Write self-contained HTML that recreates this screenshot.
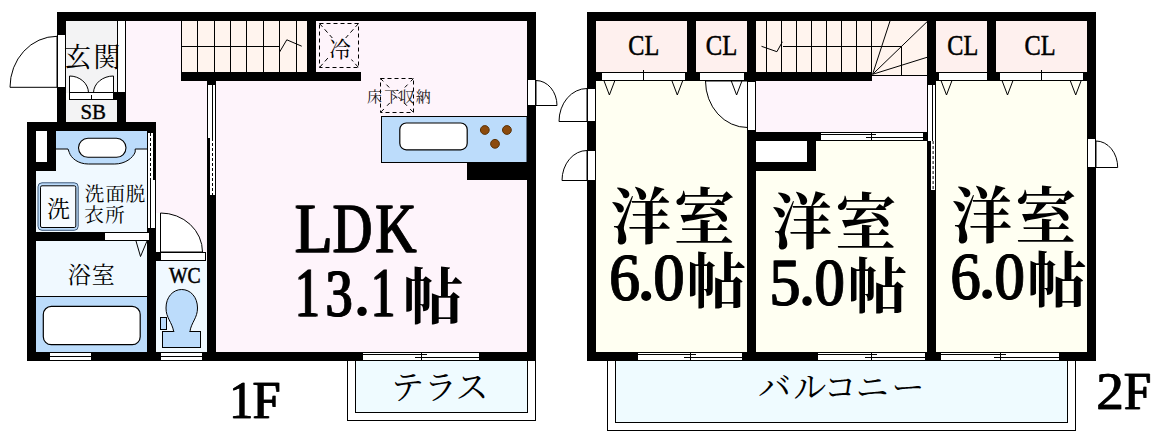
<!DOCTYPE html>
<html lang="ja"><head><meta charset="utf-8"><title>Floor plan 1F / 2F</title>
<style>
html,body{margin:0;padding:0;background:#fff;}
body{width:1156px;height:442px;overflow:hidden;font-family:"Liberation Serif",serif;}
svg{display:block;}
svg text{font-family:"Liberation Serif",serif;font-kerning:none;white-space:pre;}
svg text.cjk{font-family:"Liberation Serif","Noto Serif CJK SC","Noto Sans CJK JP",serif;}
</style></head><body>
<svg width="1156" height="442" viewBox="0 0 1156 442">
<rect width="1156" height="442" fill="#fff"/>
<rect x="66" y="21" width="461" height="331" fill="#fef4fb"/>
<rect x="66" y="21" width="51" height="72" fill="#f3f3f4"/>
<rect x="117" y="21" width="9" height="72" fill="#fff"/>
<rect x="66" y="93" width="51" height="7" fill="#fff"/>
<rect x="66" y="100" width="51" height="22" fill="#f3f3f4"/>
<rect x="36" y="131" width="111" height="221" fill="#f0f9ff"/>
<rect x="156" y="260" width="51" height="92" fill="#f0f9ff"/>
<rect x="181" y="21" width="126" height="51" fill="#fff4ee"/>
<rect x="57" y="12" width="479" height="9" fill="#000"/>
<rect x="57" y="12" width="9" height="22" fill="#000"/>
<rect x="57" y="88" width="9" height="34" fill="#000"/>
<rect x="117" y="92" width="9" height="30" fill="#000"/>
<rect x="114" y="92" width="3" height="8" fill="#000"/>
<rect x="27" y="122" width="129" height="9" fill="#000"/>
<rect x="27" y="122" width="9" height="239" fill="#000"/>
<rect x="36" y="131" width="20" height="40" fill="#000"/>
<rect x="36" y="131" width="11" height="31" fill="#fff"/>
<rect x="36" y="232" width="68" height="9" fill="#000"/>
<rect x="147" y="122" width="9" height="11" fill="#000"/>
<rect x="147" y="228" width="9" height="133" fill="#000"/>
<rect x="156" y="252" width="4" height="9" fill="#000"/>
<rect x="207" y="195" width="9" height="166" fill="#000"/>
<rect x="207" y="81" width="9" height="4" fill="#000"/>
<rect x="181" y="72" width="180" height="9" fill="#000"/>
<rect x="307" y="21" width="9" height="51" fill="#000"/>
<rect x="27" y="352" width="509" height="9" fill="#000"/>
<rect x="527" y="12" width="9" height="349" fill="#000"/>
<rect x="467" y="162" width="60" height="18" fill="#000"/>
<line x1="117.5" y1="21" x2="117.5" y2="93" stroke="#000" stroke-width="1"/>
<line x1="125.5" y1="21" x2="125.5" y2="93" stroke="#000" stroke-width="1"/>
<path d="M57 36.3 A47 51 0 0 0 10 87.3 L57 87.3 Z" fill="#fff" stroke="#000" stroke-width="1"/>
<rect x="57.5" y="34.5" width="8" height="53" fill="#fff" stroke="#000" stroke-width="1"/>
<path d="M69.5 76 A19 17 0 0 1 88.5 92.5 L69.5 92.5 Z" fill="#fff" stroke="#000" stroke-width="1"/>
<path d="M113.5 76 A20 17 0 0 0 93.5 92.5 L113.5 92.5 Z" fill="#fff" stroke="#000" stroke-width="1"/>
<rect x="69.5" y="92.5" width="44" height="7" fill="#fff" stroke="#000" stroke-width="1"/>
<line x1="91.5" y1="95" x2="91.5" y2="100" stroke="#000" stroke-width="1"/>
<line x1="181.5" y1="21" x2="181.5" y2="72" stroke="#000" stroke-width="1"/>
<line x1="197.5" y1="21" x2="197.5" y2="72" stroke="#000" stroke-width="1"/>
<line x1="214.5" y1="21" x2="214.5" y2="72" stroke="#000" stroke-width="1"/>
<line x1="230.5" y1="21" x2="230.5" y2="72" stroke="#000" stroke-width="1"/>
<line x1="246.5" y1="21" x2="246.5" y2="72" stroke="#000" stroke-width="1"/>
<line x1="263.5" y1="21" x2="263.5" y2="72" stroke="#000" stroke-width="1"/>
<line x1="279.5" y1="21" x2="279.5" y2="72" stroke="#000" stroke-width="1"/>
<line x1="296.5" y1="21" x2="296.5" y2="72" stroke="#000" stroke-width="1"/>
<line x1="181" y1="46.5" x2="280" y2="46.5" stroke="#000" stroke-width="1"/>
<path d="M279.6 52 L286.8 39.8 L301.7 46.2" fill="none" stroke="#000" stroke-width="1"/>
<rect x="207" y="85" width="9" height="110" fill="#fff"/>
<line x1="207.5" y1="85" x2="207.5" y2="195" stroke="#000" stroke-width="1"/>
<line x1="215.5" y1="85" x2="215.5" y2="195" stroke="#000" stroke-width="1"/>
<line x1="212.5" y1="85" x2="212.5" y2="138" stroke="#000" stroke-width="1"/>
<rect x="207" y="138" width="3" height="57" fill="#000"/>
<line x1="212.5" y1="138" x2="212.5" y2="195" stroke="#000" stroke-width="1" stroke-dasharray="3 2"/>
<rect x="147" y="133" width="9" height="95" fill="#fff"/>
<line x1="147.5" y1="133" x2="147.5" y2="228" stroke="#000" stroke-width="1"/>
<line x1="155.5" y1="180" x2="155.5" y2="228" stroke="#000" stroke-width="1"/>
<rect x="153" y="133" width="3" height="47" fill="#000"/>
<line x1="150.5" y1="133" x2="150.5" y2="180" stroke="#000" stroke-width="1" stroke-dasharray="3 2"/>
<line x1="150.5" y1="180" x2="150.5" y2="228" stroke="#000" stroke-width="1"/>
<rect x="56" y="131" width="91" height="18" fill="#bcdcfb"/>
<path d="M56 149 H68 L69.3 152.5 C71 158 78 164 88.3 164 H114.8 C125 164 133 158 135.2 152 V149 H147" fill="#bcdcfb" stroke="#000" stroke-width="1"/>
<rect x="78.5" y="138.3" width="47.5" height="19" fill="#fff" stroke="#000" stroke-width="1.1" rx="9.5"/>
<rect x="38" y="182.8" width="40.2" height="47.5" fill="#bcdcfb" stroke="#3d5878" stroke-width="1" rx="4"/>
<rect x="40.5" y="185.8" width="35.3" height="41.7" fill="#f6fbff" stroke="#000" stroke-width="1" rx="1.5"/>
<rect x="104.5" y="232.5" width="45" height="8" fill="#fff" stroke="#000" stroke-width="1"/>
<path d="M136 241 L140.5 256.5 L147 241" fill="none" stroke="#000" stroke-width="1"/>
<rect x="36" y="296" width="111" height="56" fill="#bcdcfb"/>
<line x1="36" y1="296.5" x2="147" y2="296.5" stroke="#000" stroke-width="1"/>
<rect x="43.3" y="306.4" width="96.9" height="38.3" fill="#fff" stroke="#000" stroke-width="1.2" rx="8"/>
<path d="M160.5 213 A42 39 0 0 1 202.5 252 L160.5 252 Z" fill="#fff" stroke="#000" stroke-width="1"/>
<rect x="156" y="213" width="4" height="39" fill="#fff"/>
<rect x="160.5" y="252.5" width="45" height="8" fill="#fff" stroke="#000" stroke-width="1"/>
<rect x="162.5" y="331.5" width="38" height="16" fill="#bcdcfb" stroke="#000" stroke-width="1"/>
<path d="M173.7 331.5 C172 322 166 318 166 308 C166 297 173 289.5 181.7 289.5 C190.5 289.5 197.5 297 197.5 308 C197.5 318 191.5 322 189.9 331.5 Z" fill="#bcdcfb" stroke="#000" stroke-width="1"/>
<rect x="174.3" y="330" width="15" height="2.5" fill="#bcdcfb"/>
<rect x="160.5" y="317.5" width="6" height="12" fill="#bcdcfb" stroke="#000" stroke-width="1"/>
<rect x="50" y="352" width="41" height="9" fill="#fff"/>
<line x1="50" y1="352.5" x2="91" y2="352.5" stroke="#000" stroke-width="1"/>
<line x1="50" y1="360.5" x2="91" y2="360.5" stroke="#000" stroke-width="1"/>
<line x1="50" y1="356.5" x2="91" y2="356.5" stroke="#000" stroke-width="1"/>
<rect x="161" y="352" width="41" height="9" fill="#fff"/>
<line x1="161" y1="352.5" x2="202" y2="352.5" stroke="#000" stroke-width="1"/>
<line x1="161" y1="360.5" x2="202" y2="360.5" stroke="#000" stroke-width="1"/>
<line x1="161" y1="356.5" x2="202" y2="356.5" stroke="#000" stroke-width="1"/>
<rect x="527" y="79" width="9" height="27" fill="#fff"/>
<path d="M536 80.5 A21 25 0 0 1 557 105.5 L536 105.5 Z" fill="#fff" stroke="#000" stroke-width="1"/>
<rect x="527.5" y="79.5" width="8" height="26" fill="#fff" stroke="#000" stroke-width="1"/>
<rect x="381.5" y="116.5" width="145.5" height="46" fill="#bcdcfb" stroke="#000" stroke-width="1"/>
<rect x="399.8" y="123" width="67.4" height="26.8" fill="#fff" stroke="#000" stroke-width="1.2" rx="6.5"/>
<circle cx="484.8" cy="130" r="4.4" fill="#8c4a0c" stroke="#5a3206" stroke-width="1"/>
<circle cx="506.9" cy="130" r="4.4" fill="#8c4a0c" stroke="#5a3206" stroke-width="1"/>
<circle cx="495" cy="143.8" r="4.4" fill="#8c4a0c" stroke="#5a3206" stroke-width="1"/>
<rect x="319.5" y="23.5" width="39" height="44" fill="none" stroke="#000" stroke-width="1" stroke-dasharray="4 3"/>
<line x1="319.5" y1="23.5" x2="358.5" y2="67.5" stroke="#000" stroke-width="1" stroke-dasharray="4.5 3.2"/>
<line x1="358.5" y1="23.5" x2="319.5" y2="67.5" stroke="#000" stroke-width="1" stroke-dasharray="4.5 3.2"/>
<rect x="329" y="38" width="22.5" height="22" fill="#fef4fb"/>
<rect x="380.5" y="78.5" width="33" height="34" fill="none" stroke="#000" stroke-width="1" stroke-dasharray="4 3"/>
<line x1="380.5" y1="78.5" x2="413.5" y2="112.5" stroke="#000" stroke-width="1" stroke-dasharray="4 4.5"/>
<line x1="413.5" y1="78.5" x2="380.5" y2="112.5" stroke="#000" stroke-width="1" stroke-dasharray="4 4.5"/>
<rect x="347.5" y="360.5" width="188" height="60" fill="#fff" stroke="#000" stroke-width="1"/>
<rect x="348" y="360" width="187" height="1" fill="#fff"/>
<rect x="355.5" y="360.5" width="172" height="52" fill="#effbff" stroke="#000" stroke-width="1"/>
<rect x="27" y="352" width="336" height="9" fill="#000"/>
<rect x="479" y="352" width="57" height="9" fill="#000"/>
<rect x="363" y="352" width="116" height="9" fill="#fff"/>
<line x1="363" y1="352.5" x2="479" y2="352.5" stroke="#000" stroke-width="1"/>
<line x1="363" y1="360.5" x2="479" y2="360.5" stroke="#000" stroke-width="1"/>
<line x1="363" y1="354.5" x2="427" y2="354.5" stroke="#000" stroke-width="1"/>
<line x1="415" y1="357.5" x2="479" y2="357.5" stroke="#000" stroke-width="1"/>
<line x1="421.5" y1="352" x2="421.5" y2="361" stroke="#000" stroke-width="1"/>
<rect x="50" y="352" width="41" height="9" fill="#fff"/>
<line x1="50" y1="352.5" x2="91" y2="352.5" stroke="#000" stroke-width="1"/>
<line x1="50" y1="360.5" x2="91" y2="360.5" stroke="#000" stroke-width="1"/>
<line x1="50" y1="356.5" x2="91" y2="356.5" stroke="#000" stroke-width="1"/>
<rect x="161" y="352" width="41" height="9" fill="#fff"/>
<line x1="161" y1="352.5" x2="202" y2="352.5" stroke="#000" stroke-width="1"/>
<line x1="161" y1="360.5" x2="202" y2="360.5" stroke="#000" stroke-width="1"/>
<line x1="161" y1="356.5" x2="202" y2="356.5" stroke="#000" stroke-width="1"/>
<rect x="596" y="21" width="491" height="51" fill="#fef0ee"/>
<rect x="756" y="21" width="171" height="55" fill="#fff4ee"/>
<rect x="756" y="76" width="171" height="56" fill="#fef4fb"/>
<rect x="596" y="81" width="151" height="271" fill="#fffff2"/>
<rect x="756" y="141" width="171" height="211" fill="#fffff2"/>
<rect x="936" y="81" width="151" height="271" fill="#fffff2"/>
<rect x="587" y="12" width="509" height="9" fill="#000"/>
<rect x="587" y="12" width="9" height="349" fill="#000"/>
<rect x="1087" y="12" width="9" height="349" fill="#000"/>
<rect x="687" y="21" width="9" height="51" fill="#000"/>
<rect x="685" y="72" width="15" height="9" fill="#000"/>
<rect x="747" y="21" width="9" height="60" fill="#000"/>
<rect x="927" y="12" width="9" height="73" fill="#000"/>
<rect x="927" y="72" width="12" height="9" fill="#000"/>
<rect x="987" y="21" width="9" height="51" fill="#000"/>
<rect x="987" y="72" width="13" height="9" fill="#000"/>
<rect x="596" y="72" width="6" height="9" fill="#000"/>
<rect x="1083" y="72" width="4" height="9" fill="#000"/>
<rect x="744" y="72" width="128" height="9" fill="#000"/>
<rect x="747" y="131" width="9" height="230" fill="#000"/>
<rect x="747" y="132" width="74" height="9" fill="#000"/>
<rect x="747" y="132" width="69" height="39" fill="#000"/>
<rect x="756" y="141" width="51" height="21" fill="#fff"/>
<rect x="927" y="190" width="9" height="171" fill="#000"/>
<rect x="923" y="132" width="5" height="9" fill="#000"/>
<rect x="602" y="72" width="83" height="9" fill="#fff"/>
<line x1="602" y1="72.5" x2="685" y2="72.5" stroke="#000" stroke-width="1"/>
<line x1="602" y1="80.5" x2="685" y2="80.5" stroke="#000" stroke-width="1"/>
<line x1="643.5" y1="70" x2="643.5" y2="81" stroke="#000" stroke-width="1"/>
<rect x="700" y="72" width="44" height="9" fill="#fff"/>
<line x1="700" y1="72.5" x2="744" y2="72.5" stroke="#000" stroke-width="1"/>
<line x1="700" y1="80.5" x2="744" y2="80.5" stroke="#000" stroke-width="1"/>
<rect x="939" y="72" width="48" height="9" fill="#fff"/>
<line x1="939" y1="72.5" x2="987" y2="72.5" stroke="#000" stroke-width="1"/>
<line x1="939" y1="80.5" x2="987" y2="80.5" stroke="#000" stroke-width="1"/>
<rect x="1000" y="72" width="83" height="9" fill="#fff"/>
<line x1="1000" y1="72.5" x2="1083" y2="72.5" stroke="#000" stroke-width="1"/>
<line x1="1000" y1="80.5" x2="1083" y2="80.5" stroke="#000" stroke-width="1"/>
<line x1="1041.5" y1="70" x2="1041.5" y2="81" stroke="#000" stroke-width="1"/>
<path d="M705.5 81 A42 46.5 0 0 0 747.5 127.5 L747.5 81 Z" fill="#fff" stroke="#000" stroke-width="1"/>
<rect x="747.5" y="81.5" width="8" height="49" fill="#fff" stroke="#000" stroke-width="1"/>
<path d="M604.1 81 L609.4 95 L614.7 81" fill="none" stroke="#000" stroke-width="1"/>
<path d="M672 81 L677.3 95 L682.6 81" fill="none" stroke="#000" stroke-width="1"/>
<path d="M731.3 81 L736.6 95 L741.9 81" fill="none" stroke="#000" stroke-width="1"/>
<path d="M941.2 81 L946.5 95 L951.8 81" fill="none" stroke="#000" stroke-width="1"/>
<path d="M1002.2 81 L1007.5 95 L1012.8 81" fill="none" stroke="#000" stroke-width="1"/>
<path d="M1070.4 81 L1075.7 95 L1081 81" fill="none" stroke="#000" stroke-width="1"/>
<line x1="766.5" y1="21" x2="766.5" y2="72" stroke="#000" stroke-width="1"/>
<line x1="781.5" y1="21" x2="781.5" y2="72" stroke="#000" stroke-width="1"/>
<line x1="796.5" y1="21" x2="796.5" y2="72" stroke="#000" stroke-width="1"/>
<line x1="811.5" y1="21" x2="811.5" y2="72" stroke="#000" stroke-width="1"/>
<line x1="826.5" y1="21" x2="826.5" y2="72" stroke="#000" stroke-width="1"/>
<line x1="841.5" y1="21" x2="841.5" y2="72" stroke="#000" stroke-width="1"/>
<line x1="856.5" y1="21" x2="856.5" y2="72" stroke="#000" stroke-width="1"/>
<line x1="871.5" y1="21" x2="871.5" y2="72" stroke="#000" stroke-width="1"/>
<line x1="783" y1="46.5" x2="902" y2="46.5" stroke="#000" stroke-width="1"/>
<path d="M761.5 46.3 L776.9 51.7 L782.4 41.8" fill="none" stroke="#000" stroke-width="1"/>
<line x1="872.6" y1="74.3" x2="890" y2="21" stroke="#000" stroke-width="1"/>
<line x1="872.6" y1="74.3" x2="927.5" y2="21.3" stroke="#000" stroke-width="1"/>
<line x1="872.6" y1="74.3" x2="927.4" y2="57.2" stroke="#000" stroke-width="1"/>
<line x1="901.5" y1="46" x2="901.5" y2="76" stroke="#000" stroke-width="1"/>
<line x1="872" y1="75.5" x2="927" y2="75.5" stroke="#000" stroke-width="1"/>
<rect x="821" y="132" width="102" height="9" fill="#fff"/>
<line x1="821" y1="132.5" x2="923" y2="132.5" stroke="#000" stroke-width="1"/>
<line x1="821" y1="140.5" x2="923" y2="140.5" stroke="#000" stroke-width="1"/>
<line x1="821" y1="134.5" x2="876" y2="134.5" stroke="#000" stroke-width="1"/>
<line x1="866" y1="137.5" x2="923" y2="137.5" stroke="#000" stroke-width="1"/>
<line x1="871.5" y1="132" x2="871.5" y2="141" stroke="#000" stroke-width="1"/>
<rect x="927" y="85" width="9" height="105" fill="#fff"/>
<line x1="927.5" y1="85" x2="927.5" y2="190" stroke="#000" stroke-width="1"/>
<line x1="935.5" y1="85" x2="935.5" y2="190" stroke="#000" stroke-width="1"/>
<line x1="932.5" y1="85" x2="932.5" y2="141" stroke="#000" stroke-width="1"/>
<rect x="927" y="141" width="4" height="49" fill="#000"/>
<line x1="933.1" y1="141" x2="933.1" y2="190" stroke="#000" stroke-width="1" stroke-dasharray="3 2"/>
<rect x="923" y="132" width="5" height="9" fill="#000"/>
<path d="M587 88.5 A28 33 0 0 0 559 121.5 L587 121.5 Z" fill="#fff" stroke="#000" stroke-width="1"/>
<rect x="587.5" y="88.5" width="8" height="33" fill="#fff" stroke="#000" stroke-width="1"/>
<path d="M587 150.5 A25 30 0 0 0 562 180.5 L587 180.5 Z" fill="#fff" stroke="#000" stroke-width="1"/>
<rect x="587.5" y="150.5" width="8" height="30" fill="#fff" stroke="#000" stroke-width="1"/>
<path d="M1096 141 A21.7 26.5 0 0 1 1117.7 167.5 L1096 167.5 Z" fill="#fff" stroke="#000" stroke-width="1"/>
<rect x="1087.5" y="138.5" width="8" height="29" fill="#fff" stroke="#000" stroke-width="1"/>
<rect x="607.5" y="360.5" width="468" height="70" fill="#fff" stroke="#000" stroke-width="1"/>
<rect x="608" y="360" width="467" height="1" fill="#fff"/>
<rect x="615.5" y="360.5" width="452" height="62" fill="#effbff" stroke="#000" stroke-width="1"/>
<rect x="587" y="352" width="509" height="9" fill="#000"/>
<rect x="638" y="352" width="104" height="9" fill="#fff"/>
<line x1="638" y1="352.5" x2="742" y2="352.5" stroke="#000" stroke-width="1"/>
<line x1="638" y1="360.5" x2="742" y2="360.5" stroke="#000" stroke-width="1"/>
<line x1="638" y1="354.5" x2="696" y2="354.5" stroke="#000" stroke-width="1"/>
<line x1="684" y1="357.5" x2="742" y2="357.5" stroke="#000" stroke-width="1"/>
<line x1="690.5" y1="352" x2="690.5" y2="361" stroke="#000" stroke-width="1"/>
<rect x="818" y="352" width="107" height="9" fill="#fff"/>
<line x1="818" y1="352.5" x2="925" y2="352.5" stroke="#000" stroke-width="1"/>
<line x1="818" y1="360.5" x2="925" y2="360.5" stroke="#000" stroke-width="1"/>
<line x1="818" y1="354.5" x2="877" y2="354.5" stroke="#000" stroke-width="1"/>
<line x1="865" y1="357.5" x2="925" y2="357.5" stroke="#000" stroke-width="1"/>
<line x1="871.5" y1="352" x2="871.5" y2="361" stroke="#000" stroke-width="1"/>
<rect x="941" y="352" width="118" height="9" fill="#fff"/>
<line x1="941" y1="352.5" x2="1059" y2="352.5" stroke="#000" stroke-width="1"/>
<line x1="941" y1="360.5" x2="1059" y2="360.5" stroke="#000" stroke-width="1"/>
<line x1="941" y1="354.5" x2="1006" y2="354.5" stroke="#000" stroke-width="1"/>
<line x1="994" y1="357.5" x2="1059" y2="357.5" stroke="#000" stroke-width="1"/>
<line x1="1000.5" y1="352" x2="1000.5" y2="361" stroke="#000" stroke-width="1"/>
<text class="cjk" x="77.4" y="66.5" font-size="27" text-anchor="middle" fill="#000">玄</text>
<text class="cjk" x="107" y="66.5" font-size="27" text-anchor="middle" fill="#000">関</text>
<text transform="matrix(0.2086 0 0 0.2099 80.40 118.90)" font-size="100" font-weight="normal" fill="#000" stroke="#000" stroke-width="1.91">SB</text>
<text class="cjk" x="94.5" y="200.5" font-size="19.5" text-anchor="middle" fill="#000">洗</text>
<text class="cjk" x="115.3" y="200.5" font-size="19.5" text-anchor="middle" fill="#000">面</text>
<text class="cjk" x="135.5" y="200.5" font-size="19.5" text-anchor="middle" fill="#000">脱</text>
<text class="cjk" x="94.1" y="221.5" font-size="19.5" text-anchor="middle" fill="#000">衣</text>
<text class="cjk" x="114.9" y="221.5" font-size="19.5" text-anchor="middle" fill="#000">所</text>
<text class="cjk" x="58.5" y="217" font-size="23" text-anchor="middle" fill="#000">洗</text>
<text class="cjk" x="79.2" y="283.3" font-size="23" text-anchor="middle" fill="#000">浴</text>
<text class="cjk" x="103.2" y="283.3" font-size="23" text-anchor="middle" fill="#000">室</text>
<text transform="matrix(0.1968 0 0 0.2333 168.93 283.20)" font-size="100" font-weight="normal" fill="#000" stroke="#000" stroke-width="2.32">WC</text>
<text class="cjk" x="340" y="57.3" font-size="21.5" text-anchor="middle" fill="#000">冷</text>
<text class="cjk" x="374.5" y="101.8" font-size="15" text-anchor="middle" fill="#111">床</text>
<text class="cjk" x="391.7" y="101.8" font-size="15" text-anchor="middle" fill="#111">下</text>
<text class="cjk" x="407" y="101.8" font-size="15" text-anchor="middle" fill="#111">収</text>
<text class="cjk" x="423.2" y="101.8" font-size="15" text-anchor="middle" fill="#111">納</text>
<text transform="matrix(0.6150 0 0 0.7056 294.23 251.90)" font-size="100" font-weight="normal" fill="#000" stroke="#000" stroke-width="1.21">L</text><text transform="matrix(0.6150 0 0 0.7056 295.43 251.90)" font-size="100" font-weight="normal" fill="#000" stroke="#000" stroke-width="1.21" aria-hidden="true">L</text>
<text transform="matrix(0.5434 0 0 0.7035 332.33 251.76)" font-size="100" font-weight="normal" fill="#000" stroke="#000" stroke-width="1.28">D</text><text transform="matrix(0.5434 0 0 0.7035 333.53 251.76)" font-size="100" font-weight="normal" fill="#000" stroke="#000" stroke-width="1.28" aria-hidden="true">D</text>
<text transform="matrix(0.5695 0 0 0.7056 374.66 251.90)" font-size="100" font-weight="normal" fill="#000" stroke="#000" stroke-width="1.25">K</text><text transform="matrix(0.5695 0 0 0.7056 375.86 251.90)" font-size="100" font-weight="normal" fill="#000" stroke="#000" stroke-width="1.25" aria-hidden="true">K</text>
<text transform="matrix(0.4829 0 0 0.6907 294.46 315.80)" font-size="100" font-weight="normal" fill="#000" stroke="#000" stroke-width="1.36">1</text><text transform="matrix(0.4829 0 0 0.6907 295.96 315.80)" font-size="100" font-weight="normal" fill="#000" stroke="#000" stroke-width="1.36" aria-hidden="true">1</text>
<text transform="matrix(0.5326 0 0 0.6861 324.95 315.63)" font-size="100" font-weight="normal" fill="#000" stroke="#000" stroke-width="1.31">3</text><text transform="matrix(0.5326 0 0 0.6861 326.45 315.63)" font-size="100" font-weight="normal" fill="#000" stroke="#000" stroke-width="1.31" aria-hidden="true">3</text>
<text transform="matrix(0.8040 0 0 0.7786 351.90 315.10)" font-size="100" font-weight="normal" fill="#000">.</text>
<text transform="matrix(0.4744 0 0 0.6907 370.53 315.80)" font-size="100" font-weight="normal" fill="#000" stroke="#000" stroke-width="1.37">1</text><text transform="matrix(0.4744 0 0 0.6907 372.03 315.80)" font-size="100" font-weight="normal" fill="#000" stroke="#000" stroke-width="1.37" aria-hidden="true">1</text>
<text class="cjk" x="433.3" y="318.5" font-size="61" font-weight="bold" text-anchor="middle" fill="#000">帖</text>
<text transform="matrix(0.4744 0 0 0.5332 229.03 417.60)" font-size="100" font-weight="normal" fill="#000" stroke="#000" stroke-width="1.19">1</text><text transform="matrix(0.4744 0 0 0.5332 229.83 417.60)" font-size="100" font-weight="normal" fill="#000" stroke="#000" stroke-width="1.19" aria-hidden="true">1</text>
<text transform="matrix(0.4967 0 0 0.5330 252.37 417.60)" font-size="100" font-weight="normal" fill="#000" stroke="#000" stroke-width="1.17">F</text><text transform="matrix(0.4967 0 0 0.5330 253.17 417.60)" font-size="100" font-weight="normal" fill="#000" stroke="#000" stroke-width="1.17" aria-hidden="true">F</text>
<text class="cjk" x="407.6" y="399" font-size="33" text-anchor="middle" fill="#000">テ</text>
<text class="cjk" x="440.6" y="399" font-size="33" text-anchor="middle" fill="#000">ラ</text>
<text class="cjk" x="472" y="399" font-size="33" text-anchor="middle" fill="#000">ス</text>
<text transform="matrix(0.2422 0 0 0.2858 628.26 54.67)" font-size="100" font-weight="normal" fill="#000" stroke="#000" stroke-width="1.89">CL</text>
<text transform="matrix(0.2464 0 0 0.2858 705.74 54.67)" font-size="100" font-weight="normal" fill="#000" stroke="#000" stroke-width="1.88">CL</text>
<text transform="matrix(0.2422 0 0 0.2858 947.26 54.67)" font-size="100" font-weight="normal" fill="#000" stroke="#000" stroke-width="1.89">CL</text>
<text transform="matrix(0.2430 0 0 0.2858 1024.45 54.67)" font-size="100" font-weight="normal" fill="#000" stroke="#000" stroke-width="1.89">CL</text>
<text class="cjk" x="641" y="238.5" font-size="61" font-weight="bold" text-anchor="middle" fill="#000">洋</text>
<text class="cjk" x="704.2" y="238.5" font-size="61" font-weight="bold" text-anchor="middle" fill="#000">室</text>
<text transform="matrix(0.6085 0 0 0.6787 608.79 299.94)" font-size="100" font-weight="normal" fill="#000" stroke="#000" stroke-width="1.24">6</text><text transform="matrix(0.6085 0 0 0.6787 609.99 299.94)" font-size="100" font-weight="normal" fill="#000" stroke="#000" stroke-width="1.24" aria-hidden="true">6</text>
<text transform="matrix(0.8547 0 0 0.8378 635.47 299.81)" font-size="100" font-weight="normal" fill="#000">.</text>
<text transform="matrix(0.6135 0 0 0.6758 652.96 299.94)" font-size="100" font-weight="normal" fill="#000" stroke="#000" stroke-width="1.24">0</text><text transform="matrix(0.6135 0 0 0.6758 654.16 299.94)" font-size="100" font-weight="normal" fill="#000" stroke="#000" stroke-width="1.24" aria-hidden="true">0</text>
<text class="cjk" x="716.6" y="303" font-size="60" font-weight="bold" text-anchor="middle" fill="#000">帖</text>
<text class="cjk" x="802" y="243.5" font-size="61" font-weight="bold" text-anchor="middle" fill="#000">洋</text>
<text class="cjk" x="865.7" y="243.5" font-size="61" font-weight="bold" text-anchor="middle" fill="#000">室</text>
<text transform="matrix(0.6181 0 0 0.6787 768.91 304.64)" font-size="100" font-weight="normal" fill="#000" stroke="#000" stroke-width="1.23">5</text><text transform="matrix(0.6181 0 0 0.6787 770.11 304.64)" font-size="100" font-weight="normal" fill="#000" stroke="#000" stroke-width="1.23" aria-hidden="true">5</text>
<text transform="matrix(0.8040 0 0 0.8294 796.90 304.53)" font-size="100" font-weight="normal" fill="#000">.</text>
<text transform="matrix(0.5993 0 0 0.6728 814.12 304.64)" font-size="100" font-weight="normal" fill="#000" stroke="#000" stroke-width="1.26">0</text><text transform="matrix(0.5993 0 0 0.6728 815.32 304.64)" font-size="100" font-weight="normal" fill="#000" stroke="#000" stroke-width="1.26" aria-hidden="true">0</text>
<text class="cjk" x="877.4" y="307.5" font-size="60" font-weight="bold" text-anchor="middle" fill="#000">帖</text>
<text class="cjk" x="982" y="237.7" font-size="61" font-weight="bold" text-anchor="middle" fill="#000">洋</text>
<text class="cjk" x="1045.7" y="237.7" font-size="61" font-weight="bold" text-anchor="middle" fill="#000">室</text>
<text transform="matrix(0.6015 0 0 0.6713 949.92 298.54)" font-size="100" font-weight="normal" fill="#000" stroke="#000" stroke-width="1.26">6</text><text transform="matrix(0.6015 0 0 0.6713 951.12 298.54)" font-size="100" font-weight="normal" fill="#000" stroke="#000" stroke-width="1.26" aria-hidden="true">6</text>
<text transform="matrix(0.8294 0 0 0.8040 976.73 298.46)" font-size="100" font-weight="normal" fill="#000">.</text>
<text transform="matrix(0.5993 0 0 0.6683 994.12 298.55)" font-size="100" font-weight="normal" fill="#000" stroke="#000" stroke-width="1.26">0</text><text transform="matrix(0.5993 0 0 0.6683 995.32 298.55)" font-size="100" font-weight="normal" fill="#000" stroke="#000" stroke-width="1.26" aria-hidden="true">0</text>
<text class="cjk" x="1057" y="302" font-size="60" font-weight="bold" text-anchor="middle" fill="#000">帖</text>
<text class="cjk" x="774.5" y="398.5" font-size="33" text-anchor="middle" fill="#000">バ</text>
<text class="cjk" x="809.8" y="398.5" font-size="33" text-anchor="middle" fill="#000">ル</text>
<text class="cjk" x="840.3" y="398.5" font-size="33" text-anchor="middle" fill="#000">コ</text>
<text class="cjk" x="872.2" y="398.5" font-size="33" text-anchor="middle" fill="#000">ニ</text>
<text class="cjk" x="908" y="398.5" font-size="33" text-anchor="middle" fill="#000">ー</text>
<text transform="matrix(0.5463 0 0 0.5331 1095.90 408.70)" font-size="100" font-weight="normal" fill="#000" stroke="#000" stroke-width="1.11">2</text><text transform="matrix(0.5463 0 0 0.5331 1096.70 408.70)" font-size="100" font-weight="normal" fill="#000" stroke="#000" stroke-width="1.11" aria-hidden="true">2</text>
<text transform="matrix(0.4866 0 0 0.5269 1123.60 408.70)" font-size="100" font-weight="normal" fill="#000" stroke="#000" stroke-width="1.18">F</text><text transform="matrix(0.4866 0 0 0.5269 1124.40 408.70)" font-size="100" font-weight="normal" fill="#000" stroke="#000" stroke-width="1.18" aria-hidden="true">F</text>
</svg>
</body></html>
